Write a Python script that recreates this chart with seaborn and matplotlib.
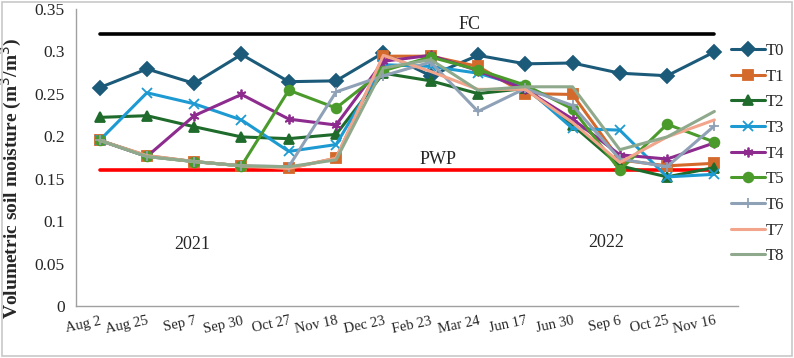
import numpy as np
import pandas as pd
import seaborn as sns
import matplotlib.pyplot as plt
from matplotlib.patches import Rectangle

# dates of measurement (2021 -> 2022)
dates = ["Aug 2", "Aug 25", "Sep 7", "Sep 30", "Oct 27", "Nov 18", "Dec 23",
         "Feb 23", "Mar 24", "Jun 17", "Jun 30", "Sep 6", "Oct 25", "Nov 16"]

T0 = [0.257, 0.279, 0.262, 0.296, 0.264, 0.265, 0.298, 0.271, 0.295, 0.285, 0.286, 0.274, 0.271, 0.299]
T1 = [0.195, 0.177, 0.170, 0.165, 0.162, 0.174, 0.294, 0.294, 0.282, 0.250, 0.249, 0.172, 0.165, 0.168]
T2 = [0.222, 0.224, 0.211, 0.199, 0.197, 0.202, 0.274, 0.265, 0.250, 0.256, 0.213, 0.165, 0.152, 0.163]
T3 = [0.195, 0.251, 0.238, 0.219, 0.182, 0.190, 0.284, 0.282, 0.274, 0.258, 0.209, 0.207, 0.152, 0.155]
T4 = [0.195, 0.176, 0.224, 0.249, 0.220, 0.213, 0.288, 0.295, 0.277, 0.255, 0.220, 0.178, 0.173, 0.192]
T5 = [0.195, 0.176, 0.170, 0.165, 0.254, 0.233, 0.277, 0.293, 0.278, 0.260, 0.232, 0.160, 0.214, 0.193]
T6 = [0.195, 0.176, 0.170, 0.165, 0.164, 0.252, 0.271, 0.287, 0.229, 0.256, 0.236, 0.173, 0.164, 0.212]
T7 = [0.195, 0.177, 0.170, 0.165, 0.162, 0.174, 0.295, 0.276, 0.255, 0.255, 0.216, 0.169, 0.199, 0.219]
T8 = [0.195, 0.176, 0.170, 0.165, 0.164, 0.172, 0.280, 0.290, 0.254, 0.258, 0.258, 0.184, 0.199, 0.229]

treatments = ["T0", "T1", "T2", "T3", "T4", "T5", "T6", "T7", "T8"]
values = [T0, T1, T2, T3, T4, T5, T6, T7, T8]

FC = 0.32
PWP = 0.16

colors = ["#1c5a7a", "#d4692c", "#1f6b2b", "#1d9ad2", "#8d2b8e",
          "#4b9a2c", "#8fa1b6", "#f2a58b", "#8fa98c"]
markers = ["D", "s", "^", "x", (6, 2, 0), "o", "+", None, None]

sns.set_style("white")
plt.rcParams['font.family'] = ['Liberation Serif', 'DejaVu Serif']

fig = plt.figure(figsize=(7.94, 3.58), dpi=100)
ax = fig.add_axes([0.0957, 0.145, 0.8338, 0.831])

x = np.arange(len(dates))

# reference lines
ax.plot([x[0], x[-1]], [FC, FC], color="black", lw=2.6, zorder=1)
ax.plot([x[0], x[-1]], [PWP, PWP], color="red", lw=2.6, zorder=1)

for i, name in enumerate(treatments):
    df = pd.DataFrame({"date": x, "sm": values[i]})
    mk = markers[i]
    kw = {}
    if mk is not None:
        kw = dict(marker=mk, markersize=7, markeredgewidth=1.3,
                  markerfacecolor=colors[i], markeredgecolor=colors[i])
    sns.lineplot(data=df, x="date", y="sm", color=colors[i], lw=2.2,
                 label=name, ax=ax, zorder=2 + i, **kw)

ax.text(7.82, 0.331, "FC", fontsize=13, ha="center", va="center")
ax.text(7.15, 0.173, "PWP", fontsize=13, ha="center", va="center")
ax.text(1.95, 0.073, "2021", fontsize=13, ha="center", va="center")
ax.text(10.72, 0.075, "2022", fontsize=13, ha="center", va="center")

ax.set_xlim(-0.5, len(dates) - 0.5)
ax.set_ylim(0, 0.35)
ax.set_yticks(np.arange(0, 0.351, 0.05))
ax.set_yticklabels(["0", "0.05", "0.1", "0.15", "0.2", "0.25", "0.3", "0.35"], fontsize=12.5)

# ticks between categories, labels at the points
ax.set_xticks(np.arange(-0.5, len(dates), 1.0))
ax.set_xticklabels([])
ax.set_xticks(x, minor=True)
ax.set_xticklabels(dates, minor=True, rotation=12, ha="right",
                   rotation_mode="anchor", fontsize=10.5)
ax.tick_params(axis="x", which="minor", length=0, pad=6)
ax.tick_params(axis="x", which="major", length=5, color="#a0a0a0", direction="out")
ax.tick_params(axis="y", length=5, color="#a0a0a0", direction="out", pad=3)

ax.set_xlabel("")
ax.set_ylabel("Volumetric soil moisture (m$^3$/m$^3$)", fontsize=14,
              fontweight="bold")
ax.yaxis.set_label_coords(-0.079, 0.43)

for s in ["top", "right"]:
    ax.spines[s].set_visible(False)
for s in ["left", "bottom"]:
    ax.spines[s].set_color("#a0a0a0")
    ax.spines[s].set_linewidth(1.0)

ax.legend(loc="center left", bbox_to_anchor=(0.921, 0.571),
          bbox_transform=fig.transFigure, frameon=False, fontsize=12,
          handlelength=2.0, handletextpad=0.05, labelspacing=0.58,
          borderaxespad=0, borderpad=0)

# chart border
fig.patches.append(Rectangle((0.003, 0.006), 0.994, 0.988, transform=fig.transFigure,
                             fill=False, edgecolor="#c8c8c8", lw=1.2))

fig.savefig("out.png", dpi=100)
